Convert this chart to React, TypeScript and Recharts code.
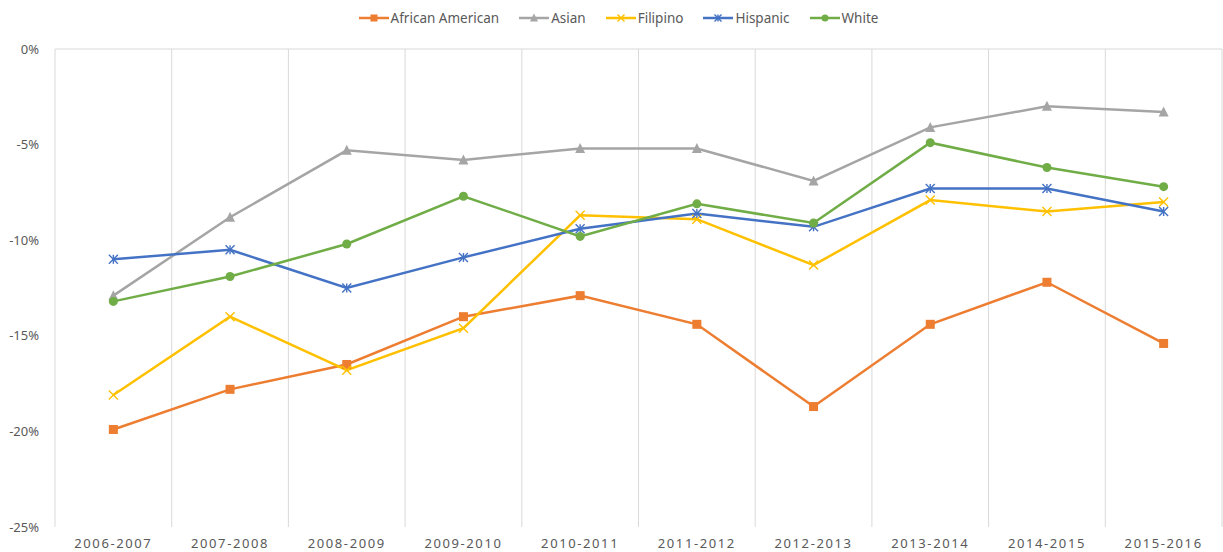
import { CartesianGrid, Legend, Line, LineChart, ReferenceLine, XAxis, YAxis } from "recharts";

const years = [
    "2006-2007", "2007-2008", "2008-2009", "2009-2010", "2010-2011",
    "2011-2012", "2012-2013", "2013-2014", "2014-2015", "2015-2016",
];

// gap values in percent
const africanAmerican = [-19.9, -17.8, -16.5, -14.0, -12.9, -14.4, -18.7, -14.4, -12.2, -15.4];
const asian = [-12.9, -8.8, -5.3, -5.8, -5.2, -5.2, -6.9, -4.1, -3.0, -3.3];
const filipino = [-18.1, -14.0, -16.8, -14.6, -8.7, -8.9, -11.3, -7.9, -8.5, -8.0];
const hispanic = [-11.0, -10.5, -12.5, -10.9, -9.4, -8.6, -9.3, -7.3, -7.3, -8.5];
const white = [-13.2, -11.9, -10.2, -7.7, -9.8, -8.1, -9.1, -4.9, -6.2, -7.2];

const yTicks = [0, -5, -10, -15, -20, -25];

const FONT = "'Noto Sans', 'Open Sans', sans-serif";
const TEXT = "#595959";
const GRID = "#d9d9d9";

const CHART_W = 1223;
const Y_AXIS_W = 55;
const RIGHT = 1;
// half a category slot on each side so points sit in the middle of their slot
const HALF_SLOT = (CHART_W - Y_AXIS_W - RIGHT) / years.length / 2;

type Shape = "square" | "triangle" | "x" | "star" | "circle";

const series: { key: string; name: string; color: string; shape: Shape }[] = [
    { key: "africanAmerican", name: "African American", color: "#ED7D31", shape: "square" },
    { key: "asian", name: "Asian", color: "#A5A5A5", shape: "triangle" },
    { key: "filipino", name: "Filipino", color: "#FFC000", shape: "x" },
    { key: "hispanic", name: "Hispanic", color: "#4472C4", shape: "star" },
    { key: "white", name: "White", color: "#70AD47", shape: "circle" },
];

const data = years.map((year, i) => ({
    year,
    africanAmerican: africanAmerican[i],
    asian: asian[i],
    filipino: filipino[i],
    hispanic: hispanic[i],
    white: white[i],
}));

function Marker({ cx, cy, shape, color, s }: { cx: number; cy: number; shape: Shape; color: string; s: number }) {
    const h = s / 2;
    switch (shape) {
        case "square":
            return <rect x={cx - h} y={cy - h} width={s} height={s} fill={color} />;
        case "triangle":
            return <polygon points={`${cx},${cy - h - 1} ${cx + h + 0.5},${cy + h} ${cx - h - 0.5},${cy + h}`} fill={color} />;
        case "x":
            return (
                <g stroke={color} strokeWidth={1.4}>
                    <line x1={cx - h} y1={cy - h} x2={cx + h} y2={cy + h} />
                    <line x1={cx - h} y1={cy + h} x2={cx + h} y2={cy - h} />
                </g>
            );
        case "star":
            return (
                <g stroke={color} strokeWidth={1.4}>
                    <line x1={cx - h} y1={cy - h} x2={cx + h} y2={cy + h} />
                    <line x1={cx - h} y1={cy + h} x2={cx + h} y2={cy - h} />
                    <line x1={cx} y1={cy - h} x2={cx} y2={cy + h} />
                </g>
            );
        default:
            return <circle cx={cx} cy={cy} r={h} fill={color} />;
    }
}

const makeDot = (shape: Shape, color: string) => (props: any) => {
    if (props.cx == null || props.cy == null) return <g key={props.index} />;
    return (
        <g key={props.index}>
            <Marker cx={props.cx} cy={props.cy} shape={shape} color={color} s={9} />
        </g>
    );
};

const renderLegend = () => (
    <div
        style={{
            display: "flex",
            justifyContent: "center",
            gap: 20,
            fontFamily: FONT,
            fontSize: 13.5,
            color: TEXT,
            lineHeight: "24px",
            paddingLeft: 14,
        }}
    >
        {series.map((s) => (
            <div key={s.key} style={{ display: "flex", alignItems: "center" }}>
                <svg width={30} height={14} style={{ marginRight: 2 }}>
                    <line x1={0} y1={7} x2={30} y2={7} stroke={s.color} strokeWidth={2.5} />
                    <Marker cx={15} cy={7} shape={s.shape} color={s.color} s={7} />
                </svg>
                <span>{s.name}</span>
            </div>
        ))}
    </div>
);

// vertical gridlines sit on the category boundaries, not on the ticks
const boundaryLines = ({ offset }: any) => {
    const step = offset.width / years.length;
    return years.map((_, i) => offset.left + i * step).concat(offset.left + offset.width);
};

export default function App() {
    return (
        <div style={{ position: "absolute", left: 0, top: 0, background: "#fff" }}>
            <LineChart
                width={CHART_W}
                height={552}
                data={data}
                margin={{ top: 19, right: RIGHT, left: 0, bottom: 0 }}
            >
                <CartesianGrid horizontal={false} stroke={GRID} strokeWidth={1} verticalCoordinatesGenerator={boundaryLines} />
                <ReferenceLine y={0} stroke={GRID} strokeWidth={1} />
                <XAxis
                    dataKey="year"
                    axisLine={false}
                    tickLine={false}
                    height={25}
                    tickMargin={6}
                    interval={0}
                    padding={{ left: HALF_SLOT, right: HALF_SLOT }}
                    tick={{ fill: TEXT, fontSize: 13, fontFamily: FONT, letterSpacing: 1.6 }}
                />
                <YAxis
                    domain={[-25, 0]}
                    ticks={yTicks}
                    width={Y_AXIS_W}
                    axisLine={false}
                    tickLine={false}
                    tickMargin={10}
                    allowDataOverflow
                    tickFormatter={(v: number) => `${v}%`}
                    tick={{ fill: TEXT, fontSize: 13, fontFamily: FONT }}
                />
                <Legend verticalAlign="top" height={30} content={renderLegend} wrapperStyle={{ top: 6, left: 0, width: CHART_W }} />
                {series.map((s) => (
                    <Line
                        key={s.key}
                        type="linear"
                        dataKey={s.key}
                        name={s.name}
                        stroke={s.color}
                        strokeWidth={2.5}
                        dot={makeDot(s.shape, s.color)}
                        activeDot={false}
                        isAnimationActive={false}
                    />
                ))}
            </LineChart>
        </div>
    );
}
